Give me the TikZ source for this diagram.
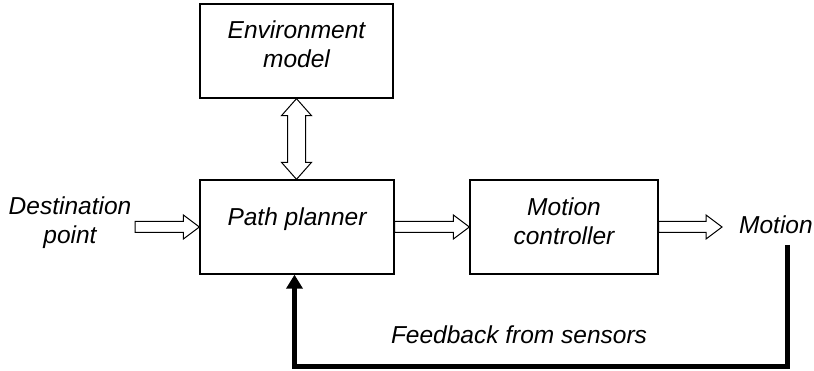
\documentclass[tikz,border=0pt]{standalone}
\usepackage{fontspec}
\setmainfont{Liberation Sans}
\usetikzlibrary{arrows.meta,calc}

\tikzset{
  blockbox/.style={draw, line width=1.3pt, minimum width=#1, minimum height=94pt, inner sep=0pt},
  lbl/.style={font=\fontsize{24.5}{29}\selectfont\itshape, align=center, inner sep=0pt},
  hollow/.style={draw, fill=white, line width=1pt, line join=miter},
  feedback/.style={line width=4.5pt, line join=miter, -{Triangle[length=14pt,width=16pt]}}
}

% hollow block arrow pointing right, from tail #1 to tip #2
\newcommand\hollowright[2]{%
  \draw[hollow] let \p1=(#1), \p2=(#2) in
    (\x1,\y2+5.5pt) -- (\x2-16pt,\y2+5.5pt) -- (\x2-16pt,\y2+12pt) -- (\x2,\y2)
    -- (\x2-16pt,\y2-12pt) -- (\x2-16pt,\y2-5.5pt) -- (\x1,\y2-5.5pt) -- cycle;}

% hollow double-headed block arrow, vertical, between tips #1 (top) and #2 (bottom)
\newcommand\hollowupdown[2]{%
  \draw[hollow] let \p1=(#1), \p2=(#2) in
    (\x1,\y1) -- (\x1+15pt,\y1-17pt) -- (\x1+9pt,\y1-17pt) -- (\x1+9pt,\y2+17pt)
    -- (\x1+15pt,\y2+17pt) -- (\x1,\y2) -- (\x1-15pt,\y2+17pt) -- (\x1-9pt,\y2+17pt)
    -- (\x1-9pt,\y1-17pt) -- (\x1-15pt,\y1-17pt) -- cycle;}

\begin{document}
\begin{tikzpicture}[x=1pt, y=-1pt]
  \useasboundingbox (0,0) rectangle (814,371);

  % blocks
  \node[blockbox=193pt] (env) at (296.5,51) {};
  \node[blockbox=194pt] (planner) at (297,227) {};
  \node[blockbox=188pt] (ctrl) at (564,227) {};

  % block texts
  \node[lbl] (envtext) at (296.5,44.7) {Environment\\model};
  \node[lbl] (plannertext) at (297,219.6) {Path planner};
  \node[lbl] (ctrltext) at (564,220.8) {Motion\\controller};

  % outer labels
  \node[lbl] (dest) at (70,222.8) {Destination\\point};
  \node[lbl, anchor=west] (motion) at (739,224.3) {Motion};
  \node[lbl] (fbtext) at (519,335) {Feedback from sensors};

  % block arrows
  \coordinate (desttail) at (135,227);
  \coordinate (motiontip) at (722,227);
  \hollowright{desttail}{planner.west}
  \hollowright{planner.east}{ctrl.west}
  \hollowright{ctrl.east}{motiontip}
  \hollowupdown{env.south}{planner.north}

  % feedback loop
  \coordinate (fbstart) at (787.5,245);
  \coordinate (fbcorner) at (787.5,366.5);
  \draw[feedback] (fbstart) -- (fbcorner) -| ([xshift=-2.5pt]planner.south);
\end{tikzpicture}
\end{document}
